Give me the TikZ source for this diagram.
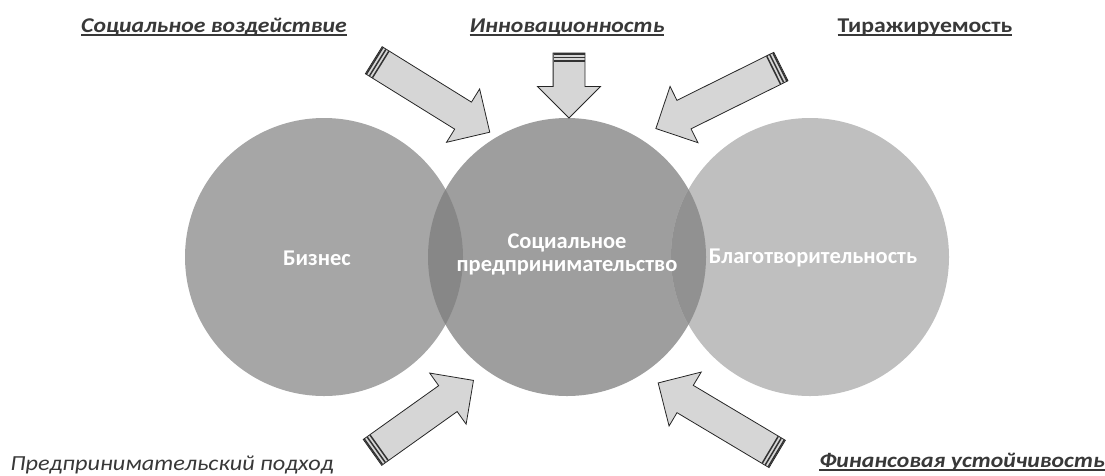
\documentclass[tikz,border=0pt]{standalone}
\usepackage{fontspec}
\setmainfont{Carlito}[FakeStretch=1.13]
\newfontfamily\circlefont{Carlito}
\usetikzlibrary{positioning,shapes.arrows,calc}
\newcommand{\undertext}[1]{\setbox0\hbox{#1}\rlap{\rule[-3.5pt]{\wd0}{1.7pt}}\box0}
\begin{document}
\begin{tikzpicture}[x=1pt,y=-1pt,node distance=243pt,
        main node/.style={circle,minimum size=278pt,inner sep=0pt},
        lens/.style={fill=black!47},
        circle text/.style={text=white,font=\circlefont\fontsize{22.5}{23}\selectfont\bfseries,align=center},
        label text/.style={text=black!78,font=\fontsize{21}{24}\selectfont\bfseries\itshape,anchor=base},
        block arrow/.style={single arrow,draw=black!85,fill=black!16,line width=0.8pt,
          inner ysep=15.5pt,inner xsep=0pt,minimum width=62pt,
          single arrow head extend=15.5pt,single arrow tip angle=90},
        stripe/.style={draw=black!80,line width=1.5pt}]

    \useasboundingbox (0,0) rectangle (1105,475);

    \node[main node,fill=black!38] (sp) at (567,257) {};
    \node[main node,fill=black!35] (biz) [left of=sp] {};
    \node[main node,fill=black!25] (char) [right of=sp] {};

    \begin{scope}
        \clip (sp) circle (139pt);
        \fill[lens] (biz) circle (139pt);
        \fill[lens,fill=black!43] (char) circle (139pt);
    \end{scope}

    \node[circle text] at ($(biz)+(-7,1)$) {Бизнес};
    \node[circle text] at ($(sp)+(0,-3)$) {Социальное\\предпринимательство};
    \node[circle text] at ($(char)+(3,1)$) {Благотворительность};

    \coordinate (impact tail) at (367,56);   \coordinate (impact tip) at (483,128);
    \coordinate (innov tail) at (569,45);    \coordinate (innov tip) at (569,110);
    \coordinate (scale tail) at (788,63);    \coordinate (scale tip) at (663,125);
    \coordinate (entre tail) at (366,457);   \coordinate (entre tip) at (467,385);
    \coordinate (finance tail) at (784,458); \coordinate (finance tip) at (665,387);

    \foreach \arr in {impact,innov,scale,entre,finance}{
        \path let \p1=($(\arr\space tip)-(\arr\space tail)$) in
            node[block arrow,rotate={atan2(\y1,\x1)},minimum height={veclen(\x1,\y1)}]
            (\arr) at ($(\arr\space tail)!0.5!(\arr\space tip)$) {};
        \foreach \d in {1.5,5,8.5}
            \draw[stripe] ($(\arr.tail)!\d pt!(\arr.tip)!15.5pt!90:(\arr.tip)$)
                -- ($(\arr.tail)!\d pt!(\arr.tip)!15.5pt!-90:(\arr.tip)$);
    }

    \node[label text] (impact label) at (214,32) {\undertext{Социальное воздействие}};
    \node[label text] (innov label) at (567,32) {\undertext{Инновационность}};
    \node[label text,font=\fontsize{21}{24}\selectfont\bfseries] (scale label) at (925,32) {\undertext{Тиражируемость}};
    \node[label text,font=\fontsize{21.5}{24}\selectfont\itshape] (entre label) at (172,470) {Предпринимательский подход};
    \node[label text] (finance label) at (962,467) {\undertext{Финансовая устойчивость}};

\end{tikzpicture}
\end{document}
